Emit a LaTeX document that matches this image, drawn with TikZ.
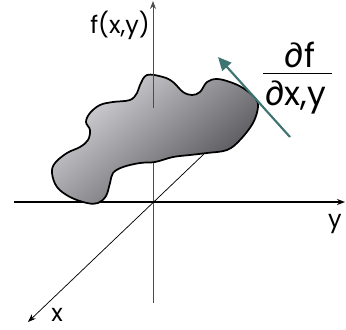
\documentclass[tikz,border=0pt]{standalone}
\usepackage{fontspec}
\setmainfont{Poppins}
\usetikzlibrary{arrows.meta}

\definecolor{tealarrow}{RGB}{62,116,113}
\definecolor{blobhell}{RGB}{218,218,222}
\definecolor{blobdunkel}{RGB}{72,72,76}

\tikzset{
  achse/.style={line width=1.3pt},
  fachse/.style={line width=0.75pt, black!70},
  xachse/.style={line width=0.55pt, -{Stealth[length=6pt,width=4.5pt]}},
  fleck/.style={line width=1.3pt, top color=blobhell, bottom color=blobdunkel, shading angle=40},
  gradpfeil/.style={line width=1.6pt, tealarrow, -{Triangle[length=10pt,width=9pt]}},
  beschr/.style={inner sep=0pt, font=\fontsize{18}{18}\selectfont},
  bruch/.style={inner sep=0pt, font=\fontsize{25}{25}\selectfont}
}

\begin{document}
\begin{tikzpicture}[x=0.75pt,y=-0.75pt]
    \useasboundingbox (0,0) rectangle (346,329);
    % Koordinaten:
    \coordinate (O) at (153,202);
    \coordinate (fbot) at (153,303);
    \coordinate (fmid) at (153,108);
    \coordinate (ftop) at (153,1);
    \coordinate (yl) at (14,202);
    \coordinate (yr) at (345,202);
    \coordinate (xh) at (205,153);
    \coordinate (xv) at (28,322);
    % Achsen hinter dem Fleck:
    \draw[fachse] (fbot) -- (fmid);
    \draw[xachse] (xh) -- (xv);
    \draw[achse, -{Stealth[length=6pt,width=4.5pt]}] (yl) -- (yr);
    % Fleck:
    \path[fleck, draw=black] plot[smooth cycle, tension=0.6] coordinates {
      (147,75) (163,77) (173,82) (183,92) (192,95) (200,92) (207,82) (217,79)
      (230,82) (243,88) (255,98) (258,107) (253,123) (240,140) (227,150)
      (207,153) (190,155) (173,157) (155,162) (140,163) (123,167) (113,173)
      (110,183) (106,196) (98,203) (87,203) (70,197) (57,187) (52,173)
      (55,163) (67,153) (80,147) (88,140) (90,130) (86,122) (90,113)
      (100,105) (113,102) (130,100) (137,93) (140,85)};
    % f-Achse oben:
    \draw[fachse, -{Stealth[length=6pt,width=4.5pt]}] (fmid) -- (ftop);
    % Gradient:
    \coordinate (gs) at (290,137);
    \coordinate (ge) at (218,57);
    \draw[gradpfeil] (gs) -- (ge);
    % Beschriftung:
    \node[beschr, anchor=base west] (flab) at (90,33) {f(x,y)};
    \node[beschr, anchor=base] (ylab) at (335,227) {y};
    \node[beschr, anchor=base] (xlab) at (57,321) {x};
    \node[bruch, anchor=base] (zaehler) at (300,67) {∂f};
    \node[bruch, anchor=base] (nenner) at (296,105) {∂x,y};
    \coordinate (bl) at (263,73.5);
    \coordinate (br) at (332,73.5);
    \draw[line width=1.1pt] (bl) -- (br);
\end{tikzpicture}
\end{document}
